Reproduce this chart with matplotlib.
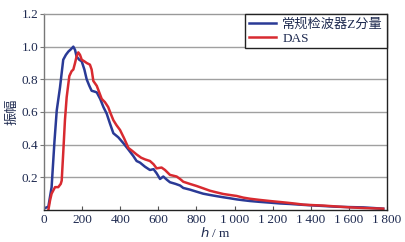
import matplotlib
matplotlib.use("Agg")
import matplotlib.pyplot as plt

# blue: conventional geophone Z component
h_z = [0, 23, 40, 55, 67, 84, 101, 115, 128, 142, 154, 163, 171, 185, 198, 212, 224, 238, 250, 265, 277, 295,
       312, 329, 346, 364, 390, 416, 443, 469, 486, 504, 530, 556, 575, 591, 609, 626, 645, 661, 690, 714,
       731, 765, 801, 835, 871, 905, 941, 975, 1011, 1045, 1081, 1130, 1186, 1240, 1291, 1340, 1396,
       1460, 1536, 1600, 1675, 1730, 1780]
amp_z = [0.01, 0.02, 0.14, 0.42, 0.61, 0.75, 0.92, 0.95, 0.97, 0.985, 1.00, 0.98, 0.94, 0.92, 0.91, 0.86, 0.80,
         0.76, 0.73, 0.725, 0.72, 0.68, 0.63, 0.59, 0.53, 0.47, 0.445, 0.41, 0.37, 0.33, 0.30, 0.29,
         0.265, 0.245, 0.25, 0.225, 0.19, 0.205, 0.185, 0.17, 0.16, 0.15,
         0.135, 0.125, 0.112, 0.10, 0.092, 0.085, 0.078, 0.072, 0.065, 0.06, 0.055, 0.05, 0.045,
         0.04, 0.037, 0.033, 0.029, 0.025, 0.02, 0.018, 0.016, 0.012, 0.008]

# red: DAS
h_das = [23, 32, 40, 58, 75, 88, 93, 101, 110, 119, 133, 145, 154, 163, 171, 180, 189, 198, 212, 224, 241, 250,
         259, 277, 290, 303, 320, 337, 350, 364, 380, 399, 420, 443, 465, 486, 510, 530, 556, 575, 591,
         617, 635, 661, 696, 714, 731, 765, 801, 835, 871, 905, 941, 975, 1011, 1045, 1081, 1130, 1186,
         1230, 1273, 1320, 1361, 1410, 1466, 1530, 1606, 1680, 1780]
amp_das = [0.0, 0.06, 0.10, 0.14, 0.14, 0.16, 0.18, 0.35, 0.55, 0.69, 0.82, 0.85, 0.86, 0.90, 0.94, 0.965, 0.95,
           0.92, 0.91, 0.90, 0.89, 0.86, 0.79, 0.76, 0.72, 0.68, 0.66, 0.63, 0.59, 0.55, 0.52, 0.49, 0.44,
           0.38, 0.36, 0.34, 0.32, 0.31, 0.30, 0.28, 0.255, 0.26, 0.245, 0.215, 0.205, 0.19,
           0.173, 0.16, 0.147, 0.133, 0.118, 0.108, 0.098, 0.092, 0.086, 0.076, 0.069, 0.062, 0.055,
           0.05, 0.045, 0.039, 0.033, 0.030, 0.027, 0.022, 0.016, 0.012, 0.008]

x_ticks = [0, 200, 400, 600, 800, 1000, 1200, 1400, 1600, 1800]
x_labels = ["0", "200", "400", "600", "800", "1\u2009000", "1\u2009200", "1\u2009400", "1\u2009600", "1\u2009800"]
y_ticks = [0.2, 0.4, 0.6, 0.8, 1.0, 1.2]
y_labels = ["0.2", "0.4", "0.6", "0.8", "1.0", "1.2"]

txt = "#1e2a50"
plt.rcParams["font.family"] = ["Liberation Serif", "Noto Sans CJK SC"]
plt.rcParams["font.size"] = 9.5

fig = plt.figure(figsize=(4.05, 2.42), dpi=100)
ax = fig.add_axes([0.1086, 0.1322, 0.847, 0.81])

for y in [0.2, 0.4, 0.6, 0.8, 1.0]:
    ax.axhline(y, color="#a0a0a0", lw=1.0, zorder=0)

ax.plot(h_z, amp_z, color="#2a3a96", lw=1.8, label="常规检波器Z分量")
ax.plot(h_das, amp_das, color="#d82a30", lw=1.8, label="DAS")

ax.set_xlim(0, 1800)
ax.set_ylim(0, 1.2)
ax.set_xticks(x_ticks)
ax.set_xticklabels(x_labels, color=txt)
ax.set_yticks(y_ticks)
ax.set_yticklabels(y_labels, color=txt)
ax.tick_params(axis="x", direction="in", length=3, color="#555555", pad=3)
ax.tick_params(axis="y", direction="out", length=3, color="#777777", pad=1)

ax.spines["left"].set_color("#777777")
ax.spines["top"].set_color("#999999")
ax.spines["right"].set_color("#222222")
ax.spines["bottom"].set_color("#222222")
for s in ax.spines.values():
    s.set_linewidth(1.0)

ax.set_xlabel("$h$ / m", color=txt, labelpad=0)
ax.set_ylabel("振幅", color=txt, family=["Noto Sans CJK SC"], labelpad=2)

leg = ax.legend(loc="upper right", bbox_to_anchor=(1.0, 1.0), borderaxespad=0,
                fancybox=False, framealpha=1, edgecolor="#222222", handlelength=2.0,
                handletextpad=0.5, borderpad=0.3, labelspacing=0.15, fontsize=9.5)
leg.get_frame().set_linewidth(1.0)
for t in leg.get_texts():
    t.set_color(txt)

fig.savefig("out.png", dpi=100)
